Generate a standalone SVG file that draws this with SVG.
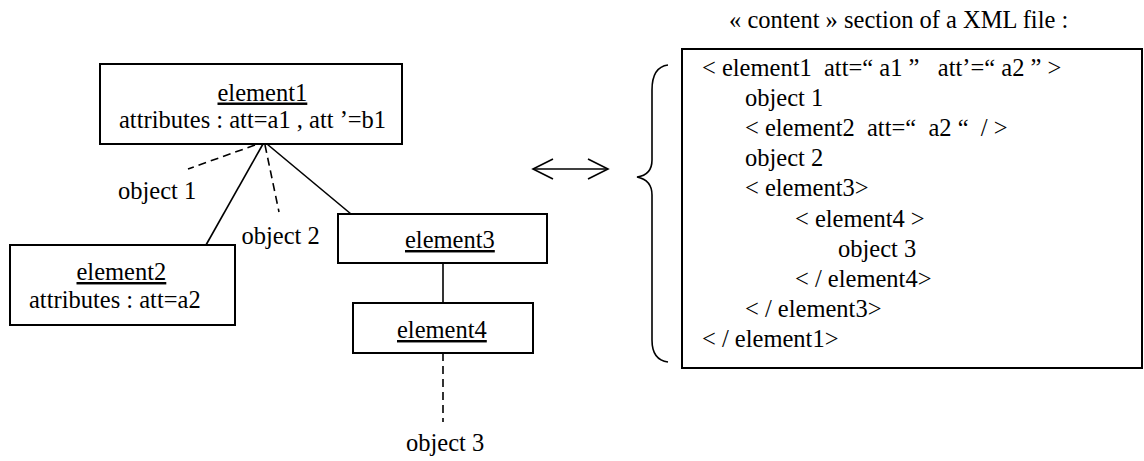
<svg xmlns="http://www.w3.org/2000/svg" width="1144" height="461" viewBox="0 0 1144 461" font-family="'Liberation Serif', 'DejaVu Serif', serif" font-size="24.5">
<style>
text{font-family:'Liberation Serif','DejaVu Serif',serif;font-size:24.5px;fill:#000;white-space:pre}
.u{text-decoration:underline}
.box{fill:#fff;stroke:#000;stroke-width:2}
.ln{stroke:#000;stroke-width:1.6;fill:none}
.dash{stroke:#000;stroke-width:1.6;fill:none;stroke-dasharray:8 5}
</style>
<rect width="1144" height="461" fill="#fff"/>
<g id="connectors">
<line class="dash" x1="255" y1="145" x2="188" y2="169"/>
<line class="ln" x1="263" y1="144" x2="206" y2="245"/>
<line class="dash" x1="265" y1="145" x2="279" y2="212"/>
<line class="ln" x1="267" y1="144" x2="351" y2="214"/>
<line class="ln" x1="443" y1="263" x2="443" y2="303"/>
<line class="dash" x1="443" y1="353" x2="443" y2="422"/>
<g id="arrow">
<line class="ln" x1="533" y1="169" x2="608" y2="169"/>
<polyline class="ln" points="553,159 533,169 553,179"/>
<polyline class="ln" points="588,159 608,169 588,179"/>
</g>
</g>
<g id="element1">
<rect class="box" x="100" y="64" width="302" height="80"/>
<text class="u" x="217.5" y="100.5">element1</text>
<text x="119" y="127.5" xml:space="preserve">attributes : att=a1 , att ’=b1</text>
</g>
<g id="object1"><text x="118" y="199">object 1</text></g>
<g id="object2"><text x="241.5" y="244">object 2</text></g>
<g id="element2">
<rect class="box" x="10" y="245" width="225" height="80"/>
<text class="u" x="76.5" y="280">element2</text>
<text x="29" y="308">attributes : att=a2</text>
</g>
<g id="element3">
<rect class="box" x="338" y="214" width="209" height="49"/>
<text class="u" x="405" y="248">element3</text>
</g>
<g id="element4">
<rect class="box" x="353" y="303" width="180" height="50"/>
<text class="u" x="397" y="338">element4</text>
</g>
<g id="object3"><text x="406" y="451">object 3</text></g>
<g id="xml">
<text x="729" y="28">« content » section of a XML file :</text>
<path class="ln" d="M668,65 Q652,67 652,90 L652,160 Q652,175 637,177 Q652,180 652,195 L652,340 Q652,360 668,362"/>
<rect class="box" x="682" y="49" width="460" height="319"/>
<text x="702" y="75.5" xml:space="preserve">&lt; element1  att=“ a1 ”   att’=“ a2 ” &gt;</text>
<text x="745" y="105.7">object 1</text>
<text x="745" y="135.9" xml:space="preserve">&lt; element2  att=“  a2 “  / &gt;</text>
<text x="745" y="166.1">object 2</text>
<text x="745" y="196.3">&lt; element3&gt;</text>
<text x="795" y="226.5">&lt; element4 &gt;</text>
<text x="838" y="256.7">object 3</text>
<text x="795" y="286.9">&lt; / element4&gt;</text>
<text x="745" y="317.1">&lt; / element3&gt;</text>
<text x="702" y="347.3">&lt; / element1&gt;</text>
</g>
</svg>
